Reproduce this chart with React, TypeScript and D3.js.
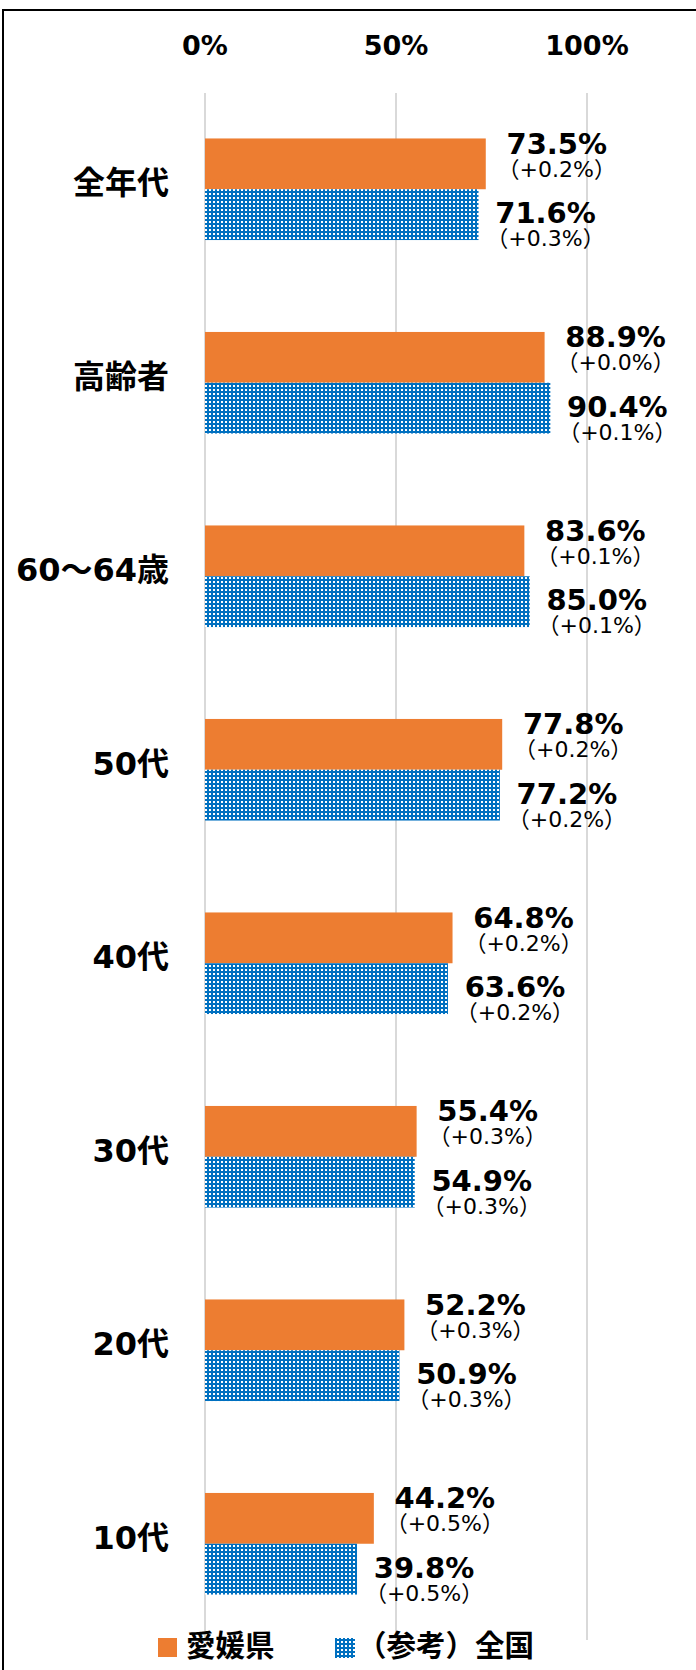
import React, { useEffect, useRef } from 'react';
import * as d3 from 'd3';

// データ
const categories = ['全年代', '高齢者', '60～64歳', '50代', '40代', '30代', '20代', '10代'];
const ehimeValues = [73.5, 88.9, 83.6, 77.8, 64.8, 55.4, 52.2, 44.2];
const ehimeDiffs = [0.2, 0.0, 0.1, 0.2, 0.2, 0.3, 0.3, 0.5];
const nationalValues = [71.6, 90.4, 85.0, 77.2, 63.6, 54.9, 50.9, 39.8];
const nationalDiffs = [0.3, 0.1, 0.1, 0.2, 0.2, 0.3, 0.3, 0.5];
const tickValues = [0, 50, 100];
const seriesNames = ['愛媛県', '（参考）全国'];

const width = 696;
const height = 1670;

const ORANGE = '#ED7D31';
const BLUE = '#0070C0';
const LATIN = '"DejaVu Sans", "Noto Sans CJK JP", sans-serif';

type Row = { cat: string; series: string; value: number; diff: number };

const App: React.FC = () => {
  const svgRef = useRef<SVGSVGElement>(null);

  useEffect(() => {
    const svg = d3.select(svgRef.current);
    svg.selectAll('*').remove();

    const rows: Row[] = [];
    categories.forEach((c, i) => {
      rows.push({ cat: c, series: 'pref', value: ehimeValues[i], diff: ehimeDiffs[i] });
      rows.push({ cat: c, series: 'nat', value: nationalValues[i], diff: nationalDiffs[i] });
    });

    const x = d3.scaleLinear().domain([0, 100]).range([205, 587]);
    const y = d3.scaleBand()
      .domain(categories)
      .range([92.5, 1640.5])
      .paddingInner(0.475)
      .paddingOuter(0.2375);
    const ySub = d3.scaleBand().domain(['pref', 'nat']).range([0, y.bandwidth()]);

    // 白ドットのパターン
    const defs = svg.append('defs');
    const pat = defs.append('pattern')
      .attr('id', 'dots')
      .attr('patternUnits', 'userSpaceOnUse')
      .attr('width', 4)
      .attr('height', 4);
    pat.append('rect').attr('width', 4).attr('height', 4).attr('fill', BLUE);
    pat.append('rect').attr('x', 1).attr('y', 1).attr('width', 2).attr('height', 2).attr('fill', '#ffffff');

    svg.append('rect').attr('width', width).attr('height', height).attr('fill', '#fff');

    // 枠
    svg.append('rect')
      .attr('x', 3)
      .attr('y', 10)
      .attr('width', 900)
      .attr('height', 1900)
      .attr('fill', 'none')
      .attr('stroke', '#000')
      .attr('stroke-width', 2);

    // グリッド線
    svg.append('g')
      .selectAll('line')
      .data(tickValues)
      .join('line')
      .attr('x1', d => x(d))
      .attr('x2', d => x(d))
      .attr('y1', 93)
      .attr('y2', 1640)
      .attr('stroke', '#d9d9d9')
      .attr('stroke-width', 2);

    // 目盛りラベル
    svg.append('g')
      .selectAll('text')
      .data(tickValues)
      .join('text')
      .attr('x', d => x(d))
      .attr('y', 55)
      .attr('text-anchor', 'middle')
      .style('font-family', LATIN)
      .style('font-weight', 'bold')
      .style('font-size', '27px')
      .text(d => `${d}%`);

    // カテゴリラベル
    svg.append('g')
      .selectAll('text')
      .data(categories)
      .join('text')
      .attr('x', 169)
      .attr('y', d => y(d)! + y.bandwidth() / 2 - 6)
      .attr('text-anchor', 'end')
      .attr('dominant-baseline', 'central')
      .style('font-family', LATIN)
      .style('font-weight', 'bold')
      .style('font-size', '32px')
      .text(d => d);

    // 棒
    svg.append('g')
      .selectAll('rect')
      .data(rows)
      .join('rect')
      .attr('x', x(0))
      .attr('y', d => y(d.cat)! + ySub(d.series)!)
      .attr('width', d => x(d.value) - x(0))
      .attr('height', ySub.bandwidth())
      .attr('fill', d => (d.series === 'pref' ? ORANGE : 'url(#dots)'));

    // 値ラベル
    const labels = svg.append('g')
      .selectAll('g')
      .data(rows)
      .join('g')
      .attr('transform', d => {
        const cx = x(d.value) + (d.series === 'pref' ? 71 : 67);
        const cy = y(d.cat)! + ySub(d.series)! + ySub.bandwidth() / 2;
        return `translate(${cx},${cy})`;
      });

    labels.append('text')
      .attr('y', d => (d.series === 'pref' ? -10 : 8.5))
      .attr('text-anchor', 'middle')
      .style('font-family', LATIN)
      .style('font-weight', 'bold')
      .style('font-size', '29px')
      .text(d => `${d.value.toFixed(1)}%`);

    labels.append('text')
      .attr('y', d => (d.series === 'pref' ? 13 : 31.5))
      .attr('text-anchor', 'middle')
      .style('font-family', LATIN)
      .style('font-size', '22px')
      .text(d => `（+${d.diff.toFixed(1)}%）`);

    // 凡例
    const legend = svg.append('g');
    legend.append('rect').attr('x', 158).attr('y', 1638).attr('width', 19).attr('height', 19).attr('fill', ORANGE);
    legend.append('text')
      .attr('x', 186)
      .attr('y', 1643)
      .attr('dominant-baseline', 'central')
      .style('font-family', '"Noto Sans CJK JP", sans-serif')
      .style('font-weight', 'bold')
      .style('font-size', '29.5px')
      .text(seriesNames[0]);
    legend.append('rect').attr('x', 335).attr('y', 1638).attr('width', 20).attr('height', 20).attr('fill', 'url(#dots)');
    legend.append('text')
      .attr('x', 357)
      .attr('y', 1643)
      .attr('dominant-baseline', 'central')
      .style('font-family', '"Noto Sans CJK JP", sans-serif')
      .style('font-weight', 'bold')
      .style('font-size', '29.5px')
      .text(seriesNames[1]);
  }, []);

  return (
    <svg
      ref={svgRef}
      width={width}
      height={height}
      style={{ position: 'absolute', left: 0, top: 0 }}
    />
  );
};

export default App;
